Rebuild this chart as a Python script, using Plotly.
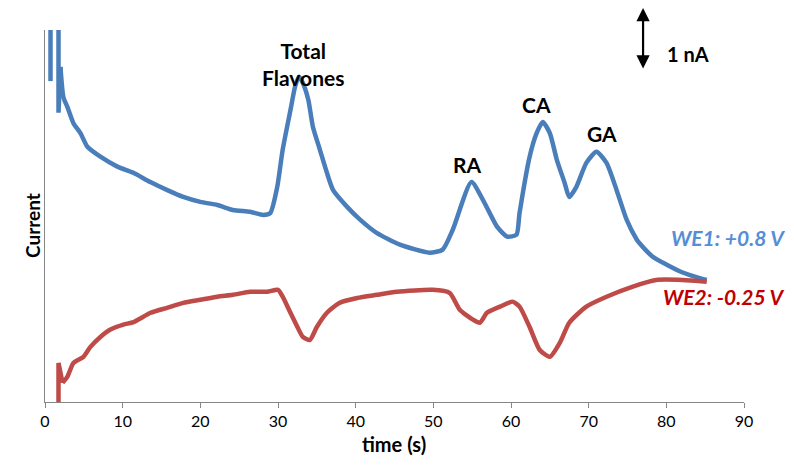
import plotly.graph_objects as go

# WE1 (+0.8 V) trace: time (s), current (nA, arbitrary offset)
we1_spike1_t = [0.71, 0.71]
we1_spike1_i = [7.0, 5.18]
we1_t = [1.74, 1.74, 1.99, 2.37, 2.89, 3.66, 4.56, 5.46, 7.13, 9.32, 11.38, 13.56, 15.75, 17.8, 20.0,
         22.2, 24.2, 26.4, 28.1, 29.0, 29.9, 30.6, 31.6, 32.2, 32.7, 33.2, 33.9, 34.5, 35.4, 36.3,
         37.1, 38.9, 40.6, 42.7, 45.7, 49.5, 51.2, 52.5, 54.9, 56.4, 58.2, 59.5, 60.7, 61.1, 62.4,
         63.3, 64.1, 65.0, 65.9, 66.9, 67.5, 68.4, 69.7, 71.0, 72.3, 73.6, 74.9, 76.2, 76.5, 78.2,
         80.0, 82.1, 84.3, 85.2]
we1_i = [7.0, 4.67, 5.41, 4.92, 4.76, 4.50, 4.34, 4.12, 3.96, 3.80, 3.70, 3.55, 3.42, 3.31, 3.23,
         3.18, 3.10, 3.07, 3.02, 3.05, 3.47, 4.07, 4.71, 5.09, 5.25, 5.15, 4.88, 4.44, 4.07, 3.70,
         3.42, 3.15, 2.94, 2.73, 2.54, 2.41, 2.46, 2.78, 3.55, 3.26, 2.83, 2.67, 2.70, 3.05, 3.96,
         4.34, 4.52, 4.34, 3.91, 3.54, 3.31, 3.47, 3.86, 4.04, 3.86, 3.42, 2.94, 2.62, 2.57, 2.35,
         2.22, 2.09, 2.00, 1.97]

# WE2 (-0.25 V) trace
we2_t = [1.74, 1.74, 2.25, 2.89, 3.66, 4.95, 5.85, 7.13, 8.42, 10.1, 11.4, 13.6, 15.7, 17.8, 20.0,
         22.2, 24.2, 26.4, 28.6, 30.0, 30.6, 31.6, 32.5, 33.2, 34.1, 35.0, 36.3, 37.9, 40.2, 42.7,
         45.3, 49.9, 52.1, 53.4, 55.1, 56.0, 56.9, 58.6, 60.2, 61.1, 62.4, 63.7, 65.0, 66.3, 67.5,
         69.7, 72.3, 75.6, 78.7, 82.1, 85.2]
we2_i = [0.0, 0.63, 0.31, 0.41, 0.63, 0.73, 0.89, 1.05, 1.17, 1.25, 1.29, 1.44, 1.52, 1.60, 1.65,
         1.70, 1.73, 1.78, 1.78, 1.81, 1.70, 1.44, 1.21, 1.05, 1.00, 1.21, 1.44, 1.60, 1.68, 1.73,
         1.78, 1.81, 1.76, 1.49, 1.33, 1.28, 1.44, 1.54, 1.62, 1.54, 1.21, 0.84, 0.73, 0.96, 1.28,
         1.54, 1.70, 1.86, 1.97, 1.97, 1.94]

x_ticks = [0, 10, 20, 30, 40, 50, 60, 70, 80, 90]

peak_names = ["Total<br>Flavones", "RA", "CA", "GA"]

BLUE = "#4A7EBB"
RED = "#BE4B48"
FONT = "Lato, 'Open Sans', sans-serif"

L, R, T, B = 44.5, 50, 30, 67
PW, PH = 794 - L - R, 469 - T - B


def px(xp):
    return (xp - L) / PW


def py(yp):
    return (469 - B - yp) / PH


def add_line(x, y, color, shape="linear"):
    fig.add_trace(go.Scatter(x=x, y=y, mode="lines",
                             line=dict(color=color, width=4.5, shape=shape, smoothing=0.6),
                             showlegend=False, hoverinfo="skip"))


fig = go.Figure()
# start-up spikes (straight segments)
add_line(we1_spike1_t, we1_spike1_i, BLUE)
add_line(we1_t[:3], we1_i[:3], BLUE)
add_line(we2_t[:3], we2_i[:3], RED)
# smooth signals
add_line(we1_t[2:], we1_i[2:], BLUE, "spline")
add_line(we2_t[2:], we2_i[2:], RED, "spline")

fig.update_layout(
    width=794, height=469,
    margin=dict(l=L, r=R, t=T, b=B, autoexpand=False),
    paper_bgcolor="white", plot_bgcolor="white",
    font=dict(family=FONT, color="#000000"),
    xaxis=dict(range=[0, 90], tickvals=x_ticks, ticktext=[str(v) for v in x_ticks],
               showgrid=False, zeroline=False, showline=True, linecolor="#868686", linewidth=1,
               ticks="outside", ticklen=5, tickcolor="#868686", tickfont=dict(size=16),
               automargin=False),
    yaxis=dict(range=[0, 6.005], showgrid=False, zeroline=False, showline=True,
               linecolor="#868686", linewidth=1, showticklabels=False, ticks="",
               automargin=False),
)

# axis titles
fig.add_annotation(x=px(394), y=py(458), xref="paper", yref="paper", text="<b>time (s)</b>",
                   showarrow=False, font=dict(size=20))
fig.add_annotation(x=px(18), y=py(226), xref="paper", yref="paper", text="<b>Current</b>",
                   showarrow=False, textangle=-90, font=dict(size=19))

# peak labels
fig.add_annotation(x=33.2, y=py(36), xref="x", yref="paper", text="<b>" + peak_names[0] + "</b>",
                   showarrow=False, font=dict(size=21), align="center")
fig.add_annotation(x=54.4, y=3.83, xref="x", yref="y", text="<b>" + peak_names[1] + "</b>",
                   showarrow=False, font=dict(size=21))
fig.add_annotation(x=63.3, y=4.81, xref="x", yref="y", text="<b>" + peak_names[2] + "</b>",
                   showarrow=False, font=dict(size=21))
fig.add_annotation(x=71.7, y=4.34, xref="x", yref="y", text="<b>" + peak_names[3] + "</b>",
                   showarrow=False, font=dict(size=21))

# scale bar
fig.add_annotation(x=px(643), y=py(8), xref="paper", yref="paper",
                   ax=0, ay=62, text="", showarrow=True, arrowhead=2, startarrowhead=2,
                   arrowside="end+start", arrowsize=1.2, arrowwidth=2.2, arrowcolor="black")
fig.add_annotation(x=px(665), y=py(40), xref="paper", yref="paper",
                   xanchor="left", text="<b>1 nA</b>", showarrow=False, font=dict(size=20))

# series labels
fig.add_annotation(x=px(787), y=py(238), xref="paper", yref="paper",
                   xanchor="right", text="<b><i>WE1: +0.8 V</i></b>", showarrow=False,
                   font=dict(size=21, color="#558ED5"))
fig.add_annotation(x=px(787), y=py(311), xref="paper", yref="paper",
                   xanchor="right", text="<b><i>WE2: -0.25 V</i></b>", showarrow=False,
                   font=dict(size=21, color="#C00000"))

fig.write_html("out.html", config={"displayModeBar": False},
               post_script="document.body.style.margin='0';document.body.style.overflow='hidden';")
